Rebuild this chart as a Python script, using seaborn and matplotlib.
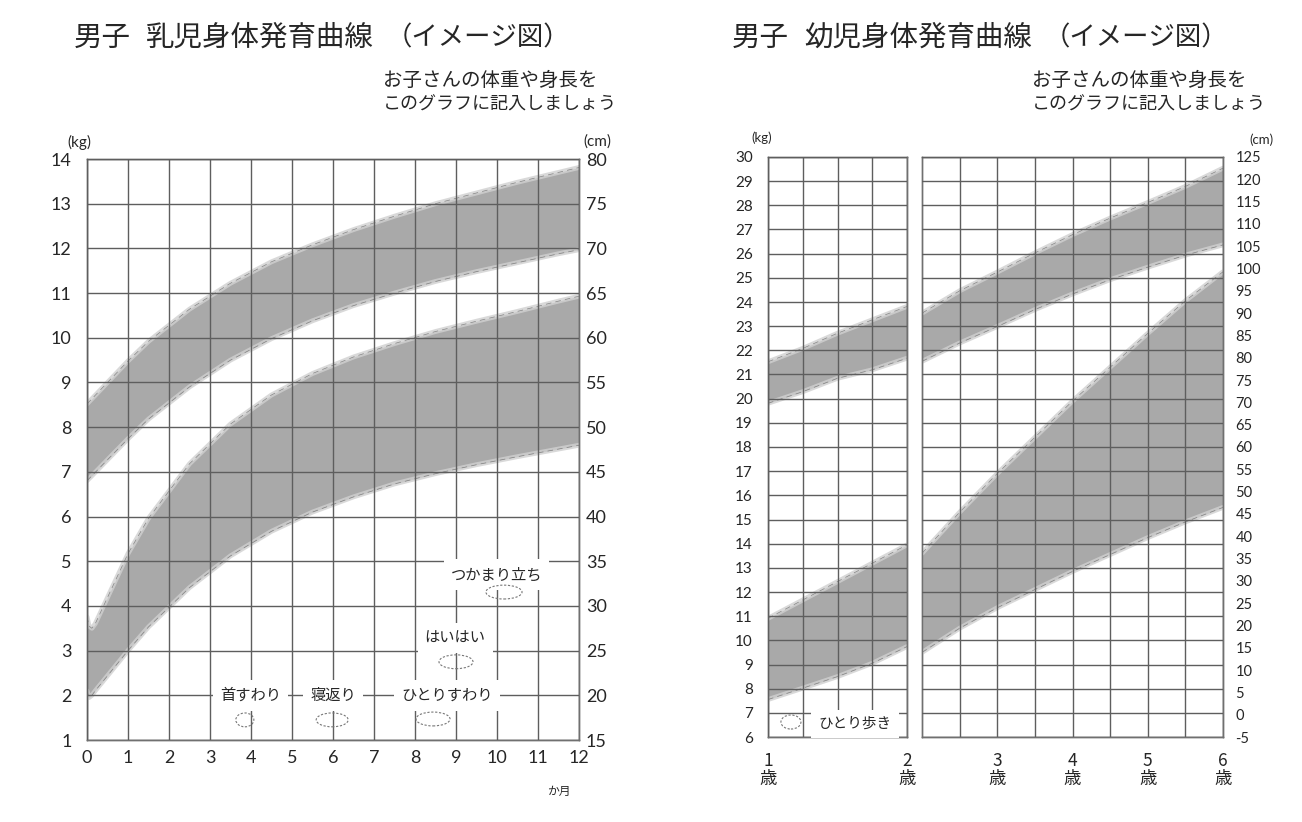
import seaborn as sns
import matplotlib.pyplot as plt
from matplotlib.patches import Ellipse

# ---- infant chart (0-12 months), boys, 3rd / 97th percentile ----
inf_w_month = [0, 0.05, 0.12, 0.2, 1, 1.5, 2.5, 3.5, 4.5, 5.5, 6.5, 7.5, 8.5, 9.5, 10.5, 11.5, 12.5]
inf_w_low = [2.10, 1.95, 2.00, 2.10, 3.00, 3.53, 4.41, 5.12, 5.67, 6.10, 6.44, 6.73, 6.96, 7.16, 7.34, 7.51, 7.68]
inf_w_high = [3.76, 3.55, 3.50, 3.60, 5.17, 5.96, 7.18, 8.07, 8.72, 9.20, 9.57, 9.87, 10.14, 10.37, 10.59, 10.82, 11.04]

inf_h_month = [0, 1, 1.5, 2.5, 3.5, 4.5, 5.5, 6.5, 7.5, 8.5, 9.5, 10.5, 11.5, 12.5]
inf_h_low = [44.0, 48.7, 50.9, 54.5, 57.5, 59.9, 61.9, 63.6, 65.0, 66.3, 67.4, 68.4, 69.4, 70.3]
inf_h_high = [52.6, 57.4, 59.6, 63.2, 66.1, 68.5, 70.4, 72.1, 73.6, 75.0, 76.2, 77.4, 78.5, 79.6]

milestones = ["首すわり", "寝返り", "ひとりすわり", "はいはい", "つかまり立ち"]

# ---- toddler chart, 1-2 years ----
tod1_year = [1.0, 1.25, 1.5, 1.75, 2.0]
tod1_w_low = [7.55, 8.02, 8.50, 9.05, 9.74]
tod1_w_high = [10.91, 11.67, 12.43, 13.19, 13.95]
tod1_h_low = [69.8, 72.4, 75.4, 77.3, 79.9]
tod1_h_high = [79.1, 82.1, 85.5, 88.5, 91.5]

# ---- toddler chart, 2-6 years ----
tod2_year = [2.0, 2.5, 3.0, 3.5, 4.0, 4.5, 5.0, 5.5, 6.0]
tod2_w_low = [9.5, 10.5, 11.35, 12.1, 12.85, 13.55, 14.25, 14.9, 15.5]
tod2_w_high = [13.6, 15.3, 16.9, 18.4, 19.9, 21.3, 22.7, 24.05, 25.25]
tod2_h_low = [79.2, 83.3, 87.0, 90.8, 94.3, 97.5, 100.3, 103.0, 105.3]
tod2_h_high = [90.0, 95.0, 99.2, 103.5, 107.6, 111.3, 114.8, 118.4, 122.5]

W, H = 1302, 822
BAND = '#a9a9a9'
GRID = '#5e5e5e'

sns.set_theme(style='white')
plt.rcParams['font.family'] = ['Lato', 'Noto Sans CJK JP', 'DejaVu Sans']
plt.rcParams['axes.unicode_minus'] = False
CJK = ['Noto Sans CJK JP', 'DejaVu Sans']


def band(ax, x, lo, hi):
    ax.fill_between(x, lo, hi, color=BAND, lw=0, zorder=1)
    for y in (lo, hi):
        sns.lineplot(x=x, y=y, ax=ax, color='#d0d0d0', lw=3.5, alpha=0.8, zorder=1.1)
        sns.lineplot(x=x, y=y, ax=ax, color='#6e6e6e', lw=0.5, alpha=0.8,
                     linestyle=(0, (8, 6)), zorder=1.2)
    ax.set_xlabel('')
    ax.set_ylabel('')


def make_axes(rect, ylim, ylim_h):
    ax = fig.add_axes(rect)
    axh = ax.twinx()
    ax.set_zorder(axh.get_zorder() + 1)
    ax.patch.set_visible(False)
    ax.set_ylim(*ylim)
    axh.set_ylim(*ylim_h)
    ax.set_axisbelow(False)
    axh.grid(False)
    for a in (ax, axh):
        for s in a.spines.values():
            s.set_color('#707070')
            s.set_linewidth(1)
        a.tick_params(length=0)
    return ax, axh


def frac(x0, y0, x1, y1):
    return [x0 / W, 1 - y1 / H, (x1 - x0) / W, (y1 - y0) / H]


def px(x, y):
    return x / W, 1 - y / H


def title(x0, name):
    fig.text(*px(x0, 38), '男子', ha='left', va='center', fontsize=20.5, family=CJK)
    fig.text(*px(x0 + 72, 38), name, ha='left', va='center', fontsize=20.5, family=CJK)
    fig.text(*px(x0 + 404, 38), '（イメージ図）', ha='center', va='center', fontsize=19, family=CJK)


def note(x0):
    fig.text(*px(x0, 80), 'お子さんの体重や身長を', ha='left', va='center', fontsize=14, family=CJK)
    fig.text(*px(x0, 105), 'このグラフに記入しましょう', ha='left', va='center', fontsize=13, family=CJK)


fig = plt.figure(figsize=(W / 100, H / 100), dpi=100)
fig.patch.set_facecolor('white')

# ================= infant chart =================
ax, axh = make_axes(frac(87, 159, 579, 740), (1, 14), (15, 80))
band(axh, inf_h_month, inf_h_low, inf_h_high)
band(ax, inf_w_month, inf_w_low, inf_w_high)
ax.set_xlim(0, 12)
axh.set_xlim(0, 12)
ax.set_xticks(range(0, 13))
ax.set_yticks(range(1, 15))
axh.set_yticks(range(15, 81, 5))
ax.grid(True, color=GRID, lw=1)
ax.tick_params(axis='y', labelsize=13, pad=11)
ax.tick_params(axis='x', labelsize=13, pad=7)
axh.tick_params(axis='y', labelsize=13, pad=5)

txt_x = [3.98, 6.0, 8.78, 8.98, 9.98]
txt_y = [2.0, 2.0, 2.0, 3.28, 4.70]
oval_x = [3.85, 5.98, 8.44, 9.0, 10.17]
oval_y = [1.45, 1.45, 1.47, 2.75, 4.31]
oval_w = [0.44, 0.78, 0.83, 0.83, 0.88]
for name, tx, ty, ox, oy, ow in zip(milestones, txt_x, txt_y, oval_x, oval_y, oval_w):
    ax.text(tx, ty, name, ha='center', va='center', fontsize=11, zorder=5, family=CJK,
            bbox=dict(facecolor='white', edgecolor='none', pad=5))
    ax.add_patch(Ellipse((ox, oy), ow, 0.31, fill=False, edgecolor='#777777',
                         lw=0.8, linestyle=(0, (2, 1.5)), zorder=6))

fig.text(*px(79, 142), '(kg)', ha='center', va='center', fontsize=11)
fig.text(*px(597, 142), '(cm)', ha='center', va='center', fontsize=11)
fig.text(*px(559, 791), 'か月', ha='center', va='center', fontsize=8.5, family=CJK)

title(74, '乳児身体発育曲線')
note(383)

# ================= toddler chart =================
axL, axLh = make_axes(frac(768, 157, 907, 737), (6, 30), (-5, 125))
axR, axRh = make_axes(frac(922, 157, 1223, 737), (6, 30), (-5, 125))

band(axLh, tod1_year, tod1_h_low, tod1_h_high)
band(axL, tod1_year, tod1_w_low, tod1_w_high)
band(axRh, tod2_year, tod2_h_low, tod2_h_high)
band(axR, tod2_year, tod2_w_low, tod2_w_high)

axL.set_xlim(1, 2)
axLh.set_xlim(1, 2)
axR.set_xlim(2, 6)
axRh.set_xlim(2, 6)

axL.set_xticks([1, 2])
axL.set_xticklabels(['1\n歳', '2\n歳'], family=CJK)
axL.set_xticks([1.25, 1.5, 1.75], minor=True)
axR.set_xticks([3, 4, 5, 6])
axR.set_xticklabels(['3\n歳', '4\n歳', '5\n歳', '6\n歳'], family=CJK)
axR.set_xticks([2.5, 3.5, 4.5, 5.5], minor=True)

for a in (axL, axR):
    a.set_yticks(range(6, 31))
    a.grid(True, which='both', color=GRID, lw=1)
    a.tick_params(axis='x', which='both', length=0, labelsize=12.5, pad=11)
    for lab in a.get_xticklabels():
        lab.set_linespacing(1.0)
axL.tick_params(axis='y', labelsize=11, pad=11)
axR.tick_params(axis='y', labelleft=False)
axLh.set_yticks([])
axRh.set_yticks(range(-5, 126, 5))
axRh.tick_params(axis='y', labelsize=10.5, pad=9)

axL.text(1.626, 6.55, 'ひとり歩き', ha='center', va='center', fontsize=10.5, zorder=5,
         family=CJK, bbox=dict(facecolor='white', edgecolor='none', pad=5))
axL.add_patch(Ellipse((1.165, 6.62), 0.144, 0.58, fill=False, edgecolor='#777777',
                      lw=0.8, linestyle=(0, (2, 1.5)), zorder=6))

fig.text(*px(762, 138), '(kg)', ha='center', va='center', fontsize=9.5)
fig.text(*px(1261, 140), '(cm)', ha='center', va='center', fontsize=9.5)

title(732, '幼児身体発育曲線')
note(1032)

fig.savefig('out.png', dpi=100)
